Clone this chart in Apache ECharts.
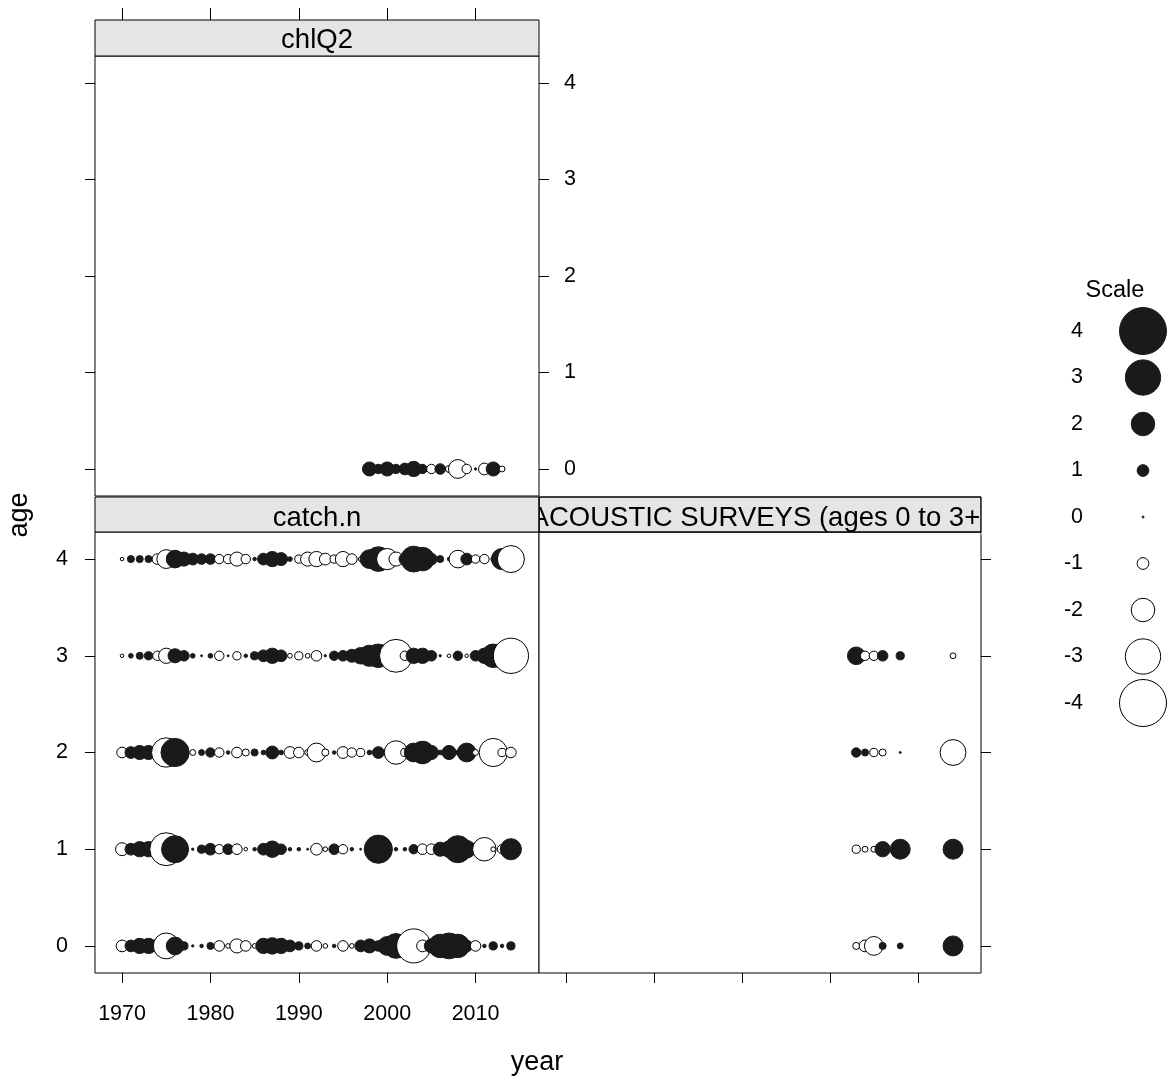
<!DOCTYPE html>
<html>
<head>
<meta charset="utf-8">
<script src="https://cdn.jsdelivr.net/npm/echarts@6/dist/echarts.min.js"></script>
<style>html,body{margin:0;padding:0;background:#fff}#c{width:1172px;height:1081px}</style>
</head>
<body>
<div id="c"></div>
<script>
// ---- data ----
const years = [1970,1971,1972,1973,1974,1975,1976,1977,1978,1979,1980,1981,1982,1983,1984,1985,1986,1987,1988,1989,1990,1991,1992,1993,1994,1995,1996,1997,1998,1999,2000,2001,2002,2003,2004,2005,2006,2007,2008,2009,2010,2011,2012,2013,2014];
const catchAge0 = [-1.0,1.0,1.3,1.3,1.1,-2.2,1.5,0.7,0.2,0.3,0.6,-0.9,-0.4,-1.2,-0.9,-0.4,1.3,1.4,1.3,1.0,0.7,0.5,-0.9,-0.4,0.3,-0.9,-0.4,1.0,1.2,0.9,1.6,2.1,1.5,-2.9,-1.0,1.2,2.0,2.2,2.0,1.0,-0.9,0.3,0.7,0.3,0.7];
const catchAge1 = [-1.1,1.0,1.3,1.3,1.2,-2.8,2.3,0.6,0.2,0.7,1.0,-0.8,0.9,-0.9,-0.3,0.3,1.0,1.4,0.9,0.3,0.3,0.1,-1.0,-0.4,0.9,-0.8,0.3,0.1,0.5,2.4,0.5,0.3,0.3,0.8,-0.9,-0.9,1.2,1.4,2.3,1.5,1.0,-2.0,-0.4,-0.8,1.8];
const catchAge2 = [-0.9,1.0,1.2,1.2,1.0,-2.5,2.4,0.5,-0.5,0.5,0.8,-0.8,0.3,-0.9,-0.6,0.6,0.4,1.1,0.4,-1.0,-0.9,-0.5,-1.6,-0.6,0.3,-1.0,-0.8,-0.7,0.4,1.0,0.6,-2.0,-0.7,1.6,1.9,1.2,0.4,1.2,0.4,1.6,-0.5,-0.3,-2.4,-0.7,-0.9];
const catchAge3 = [-0.3,0.4,0.6,0.7,-0.8,-1.3,1.2,0.9,0.4,0.1,0.4,-0.8,0.1,-0.7,0.3,0.7,1.0,1.3,1.0,-0.4,-0.7,-0.4,-0.9,0.2,0.8,0.9,1.1,1.4,1.8,2.0,1.8,-2.8,-0.8,1.3,1.3,0.9,0.2,-0.3,0.8,-0.3,0.9,1.3,2.0,2.1,-3.0];
const catchAge4 = [-0.3,0.6,0.6,0.6,-0.9,-1.6,1.5,1.2,1.0,0.9,0.9,-0.8,-0.8,-1.2,-0.8,0.3,1.0,1.3,1.1,0.4,-0.7,-1.2,-1.3,-1.0,-0.7,-1.3,-0.9,-0.4,1.6,2.1,-1.8,-1.2,1.0,2.2,2.0,1.0,0.6,0.3,-1.5,1.0,-0.7,-0.8,-0.4,1.8,-2.3];
const acousticYears = [2003,2004,2005,2006,2008,2014];
const acousticAge0 = [-0.6,-1.0,-1.6,0.6,0.5,1.7];
const acousticAge1 = [-0.7,-0.5,-0.5,1.3,1.7,1.7];
const acousticAge2 = [0.8,0.6,-0.7,-0.6,0.15,-2.2];
const acousticAge3 = [1.5,-0.8,-0.8,0.9,0.7,-0.5];
const chlYears = [1998,1999,2000,2001,2002,2003,2004,2005,2006,2007,2008,2009,2010,2011,2012,2013];
const chlAge0 = [1.2,0.8,1.2,0.8,1.0,1.3,0.8,-0.8,0.9,-0.6,-1.6,-0.8,0.2,-1.0,1.2,-0.5];
const yearTicks = [1970,1980,1990,2000,2010];
const ageTicks = [0,1,2,3,4];
const scaleValues = [-4,-3,-2,-1,0,1,2,3,4];
const panelNames = ['chlQ2','catch.n','ACOUSTIC SURVEYS (ages 0 to 3+)'];

// ---- helpers ----
const FILL = '#1a1a1a';
const FONT = 'Liberation Sans, Arial, sans-serif';
function bubSize(v){ return Math.max(2, 11.75*Math.abs(v)); }
function item(x, y, v){
  return {value:[x, y, v], itemStyle:{color: v >= 0 ? FILL : '#ffffff', borderColor: v >= 0 ? FILL : '#000000', borderWidth: 1, opacity: 1}};
}
function build(yrs, rows){
  const out = [];
  for (let i = 0; i < yrs.length; i++) {
    for (let a = 0; a < rows.length; a++) {
      if (rows[a][i] !== null && rows[a][i] !== undefined) out.push(item(yrs[i], a, rows[a][i]));
    }
  }
  return out;
}
const chlData = build(chlYears, [chlAge0]);
const catchData = build(years, [catchAge0,catchAge1,catchAge2,catchAge3,catchAge4]);
const acousticData = build(acousticYears, [acousticAge0,acousticAge1,acousticAge2,acousticAge3]);
const legendData = scaleValues.map(v => item(0, String(v), v));

const XMIN = 1966.94, XMAX = 2017.18, YMIN = -0.28, YMAX = 4.28;
const tickStyle = {lineStyle:{color:'#000', width:1}, length:10};
const lab = {color:'#000', fontSize:21.5, fontFamily:FONT, formatter: v => String(v)};

function xAx(grid, opts){
  return Object.assign({type:'value', gridIndex:grid, min:XMIN, max:XMAX, splitLine:{show:false},
    axisLine:{show:false, onZero:false},
    axisTick:Object.assign({customValues:yearTicks}, tickStyle),
    axisLabel:Object.assign({customValues:yearTicks, show:false}, lab)}, opts||{});
}
function yAx(grid, opts){
  return Object.assign({type:'value', gridIndex:grid, min:YMIN, max:YMAX, splitLine:{show:false},
    axisLine:{show:false, onZero:false},
    axisTick:Object.assign({customValues:ageTicks}, tickStyle),
    axisLabel:Object.assign({customValues:ageTicks, show:false}, lab)}, opts||{});
}

const gridStyle = {show:true, borderColor:'#000', borderWidth:1, backgroundColor:'#fff'};
const seriesBase = {type:'scatter', symbol:'circle', symbolSize:v=>bubSize(v[2]), silent:true, itemStyle:{opacity:1}, emphasis:{disabled:true}};
const stripFont = '27.5px '+FONT;
const option = {
  animation:false,
  backgroundColor:'#fff',
  grid:[
    Object.assign({left:95, top:56, width:444, height:440}, gridStyle),
    Object.assign({left:95, top:532, width:444, height:441}, gridStyle),
    Object.assign({left:539, top:532, width:442, height:441}, gridStyle),
    {left:1120, top:307.75, width:46, height:418.5, show:false}
  ],
  xAxis:[
    xAx(0, {position:'top', offset:36, axisTick:Object.assign({customValues:yearTicks}, tickStyle, {length:12})}),
    xAx(1, {position:'bottom', axisLabel:Object.assign({}, lab, {customValues:yearTicks, show:true, margin:30})}),
    xAx(2, {position:'bottom'}),
    {type:'value', gridIndex:3, min:-1, max:1, show:false}
  ],
  yAxis:[
    yAx(0, {position:'left'}),
    yAx(0, {position:'right', axisLabel:Object.assign({}, lab, {customValues:ageTicks, show:true, margin:25})}),
    yAx(1, {position:'left', axisLabel:Object.assign({}, lab, {customValues:ageTicks, show:true, margin:27})}),
    yAx(2, {position:'right'}),
    {type:'category', gridIndex:3, data:scaleValues.map(String), axisLine:{show:false}, axisTick:{show:false},
     splitLine:{show:false}, axisLabel:{color:'#000', fontSize:21.5, fontFamily:FONT, margin:37}}
  ],
  series:[
    Object.assign({xAxisIndex:0, yAxisIndex:0, data:chlData}, seriesBase),
    Object.assign({xAxisIndex:1, yAxisIndex:2, data:catchData}, seriesBase),
    Object.assign({xAxisIndex:2, yAxisIndex:3, data:acousticData}, seriesBase),
    Object.assign({xAxisIndex:3, yAxisIndex:4, data:legendData}, seriesBase)
  ],
  graphic:[
    {type:'rect', z:100, shape:{x:95, y:20, width:444, height:36}, style:{fill:'#e5e5e5', stroke:'#000', lineWidth:1}},
    {type:'text', z:101, x:317, y:40, style:{text:panelNames[0], font:stripFont, fill:'#000', align:'center', verticalAlign:'middle', textAlign:'center', textVerticalAlign:'middle'}},
    {type:'rect', z:100, shape:{x:539, y:497, width:442, height:35}, style:{fill:'#e5e5e5', stroke:'#000', lineWidth:1}},
    {type:'text', z:101, x:760, y:518, style:{text:panelNames[2], font:stripFont, fill:'#000', align:'center', verticalAlign:'middle', textAlign:'center', textVerticalAlign:'middle'}},
    {type:'rect', z:102, shape:{x:95, y:497, width:444, height:35}, style:{fill:'#e5e5e5', stroke:'#000', lineWidth:1}},
    {type:'text', z:103, x:317, y:518, style:{text:panelNames[1], font:stripFont, fill:'#000', align:'center', verticalAlign:'middle', textAlign:'center', textVerticalAlign:'middle'}},
    {type:'rect', z:102, shape:{x:981.5, y:490, width:40, height:45}, style:{fill:'#fff', stroke:null}},
    {type:'rect', z:104, shape:{x:539, y:497, width:442, height:35}, style:{fill:null, stroke:'#000', lineWidth:1}},
    {type:'text', z:101, x:20, y:515, rotation:Math.PI/2, style:{text:'age', font:'27px '+FONT, fill:'#000', align:'center', verticalAlign:'middle', textAlign:'center', textVerticalAlign:'middle'}},
    {type:'text', z:101, x:537, y:1063, style:{text:'year', font:'27px '+FONT, fill:'#000', align:'center', verticalAlign:'middle', textAlign:'center', textVerticalAlign:'middle'}},
    {type:'text', z:101, x:1115, y:291, style:{text:'Scale', font:'23.5px '+FONT, fill:'#000', align:'center', verticalAlign:'middle', textAlign:'center', textVerticalAlign:'middle'}}
  ]
};
const chart = echarts.init(document.getElementById('c'), null, {renderer:'canvas'});
chart.setOption(option);
</script>
</body>
</html>
